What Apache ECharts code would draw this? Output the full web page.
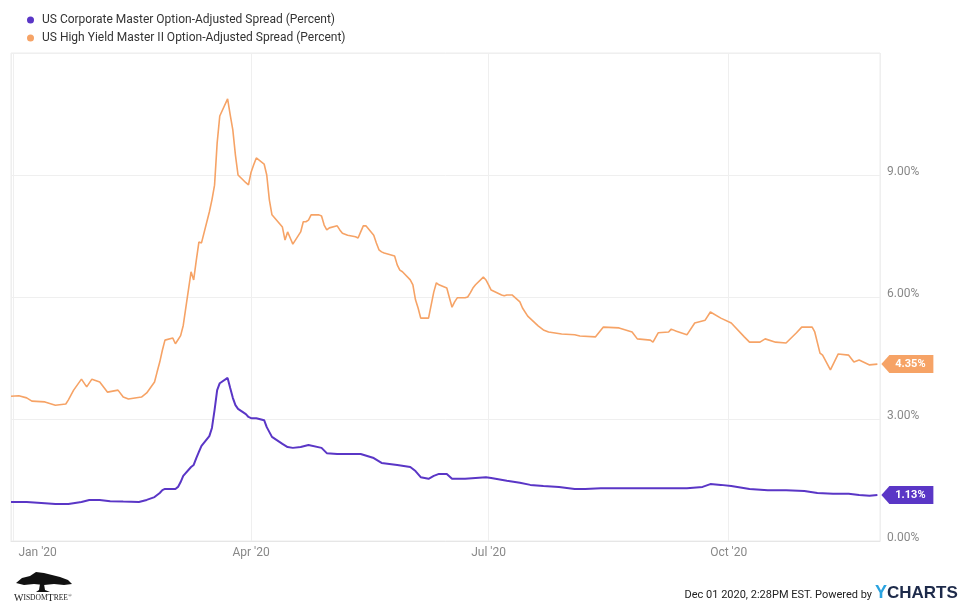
<!DOCTYPE html>
<html>
<head>
<meta charset="utf-8">
<script src="https://cdn.jsdelivr.net/npm/echarts@6/dist/echarts.min.js"></script>
<style>
  html, body { margin: 0; padding: 0; background: #fff; }
  #chart { width: 959px; height: 605px; }
</style>
</head>
<body>
<div id="chart"></div>
<script>
// ICE BofA option-adjusted spreads, 2020 (percent)
const seriesNames = [
  'US Corporate Master Option-Adjusted Spread (Percent)',
  'US High Yield Master II Option-Adjusted Spread (Percent)'
];

const hyDates = [
  '2019-12-31','2020-01-03','2020-01-06','2020-01-08','2020-01-13','2020-01-17','2020-01-21','2020-01-22',
  '2020-01-24','2020-01-27','2020-01-29','2020-01-31','2020-02-03','2020-02-06','2020-02-10','2020-02-12',
  '2020-02-14','2020-02-19','2020-02-21','2020-02-24','2020-02-25','2020-02-26','2020-02-27','2020-02-28',
  '2020-03-02','2020-03-03','2020-03-04','2020-03-05','2020-03-06','2020-03-09','2020-03-10','2020-03-11',
  '2020-03-12','2020-03-13','2020-03-16','2020-03-17','2020-03-18','2020-03-19','2020-03-20','2020-03-23',
  '2020-03-24','2020-03-25','2020-03-26','2020-03-27','2020-03-30','2020-03-31','2020-04-01','2020-04-02',
  '2020-04-03','2020-04-06','2020-04-07','2020-04-08','2020-04-09','2020-04-13','2020-04-14','2020-04-15',
  '2020-04-16','2020-04-17','2020-04-20','2020-04-21','2020-04-22','2020-04-23','2020-04-24','2020-04-27',
  '2020-04-28','2020-04-29','2020-04-30','2020-05-01','2020-05-04','2020-05-05','2020-05-06','2020-05-08',
  '2020-05-11','2020-05-12','2020-05-13','2020-05-14','2020-05-15','2020-05-18','2020-05-19','2020-05-20',
  '2020-05-21','2020-05-22','2020-05-26','2020-05-27','2020-05-28','2020-05-29','2020-06-01','2020-06-02',
  '2020-06-03','2020-06-04','2020-06-05','2020-06-08','2020-06-09','2020-06-10','2020-06-11','2020-06-12',
  '2020-06-15','2020-06-16','2020-06-17','2020-06-18','2020-06-19','2020-06-22','2020-06-23','2020-06-24',
  '2020-06-25','2020-06-26','2020-06-29','2020-06-30','2020-07-01','2020-07-02','2020-07-06','2020-07-07',
  '2020-07-08','2020-07-10','2020-07-13','2020-07-14','2020-07-16','2020-07-20','2020-07-22','2020-07-24',
  '2020-07-29','2020-08-03','2020-08-05','2020-08-11','2020-08-14','2020-08-20','2020-08-25','2020-08-27',
  '2020-09-01','2020-09-02','2020-09-04','2020-09-08','2020-09-09','2020-09-11','2020-09-15','2020-09-18',
  '2020-09-22','2020-09-24','2020-09-28','2020-10-02','2020-10-07','2020-10-09','2020-10-13','2020-10-15',
  '2020-10-19','2020-10-23','2020-10-27','2020-10-29','2020-11-02','2020-11-03','2020-11-05','2020-11-06',
  '2020-11-09','2020-11-12','2020-11-16','2020-11-18','2020-11-20','2020-11-24','2020-11-27'
];
const hyValues = [
  3.56, 3.57, 3.52, 3.44, 3.42, 3.34, 3.37, 3.47,
  3.71, 3.98, 3.79, 3.98, 3.91, 3.66, 3.71, 3.54,
  3.49, 3.54, 3.64, 3.91, 4.16, 4.40, 4.69, 4.94,
  4.99, 4.85, 4.95, 5.05, 5.30, 6.62, 6.42, 6.90,
  7.35, 7.33, 8.09, 8.39, 8.75, 9.79, 10.45, 10.87,
  10.48, 10.11, 9.49, 9.00, 8.81, 8.76, 9.07, 9.25,
  9.42, 9.27, 9.00, 8.39, 8.02, 7.72, 7.40, 7.60,
  7.45, 7.30, 7.60, 7.85, 7.85, 7.89, 8.02, 8.02,
  7.99, 7.77, 7.65, 7.70, 7.75, 7.65, 7.57, 7.52,
  7.48, 7.45, 7.60, 7.75, 7.75, 7.52, 7.33, 7.16,
  7.11, 7.08, 7.01, 6.79, 6.66, 6.62, 6.42, 6.30,
  5.93, 5.73, 5.48, 5.48, 5.80, 6.12, 6.35, 6.30,
  6.22, 5.98, 5.75, 5.88, 5.98, 5.98, 6.00, 6.10,
  6.22, 6.30, 6.49, 6.42, 6.30, 6.17, 6.05, 6.03,
  6.05, 6.05, 5.88, 5.73, 5.53, 5.29, 5.19, 5.14,
  5.09, 5.07, 5.04, 5.02, 5.26, 5.24, 5.14, 4.97,
  4.94, 4.89, 5.12, 5.14, 5.21, 5.16, 5.07, 5.36,
  5.43, 5.63, 5.48, 5.36, 5.02, 4.89, 4.89, 4.97,
  4.89, 4.87, 5.12, 5.26, 5.26, 5.14, 4.62, 4.57,
  4.21, 4.60, 4.57, 4.40, 4.45, 4.33, 4.35
];

const igDates = [
  '2019-12-31','2020-01-06','2020-01-13','2020-01-17','2020-01-22','2020-01-27','2020-01-30','2020-02-03',
  '2020-02-07','2020-02-12','2020-02-18','2020-02-21','2020-02-24','2020-02-25','2020-02-26','2020-02-27',
  '2020-02-28','2020-03-02','2020-03-03','2020-03-04','2020-03-05','2020-03-06','2020-03-09','2020-03-10',
  '2020-03-11','2020-03-12','2020-03-13','2020-03-16','2020-03-17','2020-03-18','2020-03-19','2020-03-20',
  '2020-03-23','2020-03-24','2020-03-25','2020-03-26','2020-03-27','2020-03-30','2020-03-31','2020-04-01',
  '2020-04-03','2020-04-06','2020-04-07','2020-04-09','2020-04-13','2020-04-15','2020-04-17','2020-04-20',
  '2020-04-23','2020-04-28','2020-04-30','2020-05-04','2020-05-08','2020-05-13','2020-05-18','2020-05-21',
  '2020-05-27','2020-06-01','2020-06-03','2020-06-05','2020-06-08','2020-06-10','2020-06-12','2020-06-15',
  '2020-06-17','2020-06-22','2020-06-26','2020-06-30','2020-07-02','2020-07-08','2020-07-13','2020-07-17',
  '2020-07-22','2020-07-28','2020-08-03','2020-08-07','2020-08-13','2020-08-19','2020-08-25','2020-08-31',
  '2020-09-08','2020-09-15','2020-09-21','2020-09-24','2020-09-28','2020-10-02','2020-10-09','2020-10-16',
  '2020-10-23','2020-10-30','2020-11-04','2020-11-10','2020-11-16','2020-11-20','2020-11-24','2020-11-27'
];
const igValues = [
  0.96, 0.96, 0.93, 0.91, 0.91, 0.96, 1.01, 1.01,
  0.98, 0.97, 0.96, 1.01, 1.08, 1.13, 1.18, 1.25,
  1.28, 1.28, 1.28, 1.33, 1.45, 1.60, 1.82, 1.87,
  2.04, 2.19, 2.34, 2.58, 2.78, 3.22, 3.71, 3.88,
  4.01, 3.76, 3.52, 3.34, 3.25, 3.12, 3.05, 3.02,
  3.02, 2.97, 2.80, 2.56, 2.39, 2.31, 2.29, 2.31,
  2.36, 2.29, 2.16, 2.14, 2.14, 2.14, 2.04, 1.92,
  1.87, 1.82, 1.72, 1.57, 1.53, 1.60, 1.65, 1.65,
  1.53, 1.53, 1.55, 1.57, 1.55, 1.48, 1.43, 1.38,
  1.35, 1.33, 1.28, 1.28, 1.30, 1.30, 1.30, 1.30,
  1.30, 1.30, 1.33, 1.40, 1.38, 1.35, 1.28, 1.25,
  1.25, 1.23, 1.18, 1.16, 1.16, 1.13, 1.11, 1.13
];

const xMin = '2019-12-31';
const xMax = '2020-11-28';
const yTicks = [0, 3, 6, 9, 12];

const IG_COLOR = '#5a36c6';
const HY_COLOR = '#f6a366';
const TEXT_FONT = 'Roboto, "Liberation Sans", sans-serif';
const DAY = 86400000;

const pairs = (dates, values) => dates.map((d, i) => [d, values[i]]);

// Tag shape with a left-pointing tip, used for the last-value flags
const TAG_PATH = 'path://M0,9 L8,0 L52,0 L52,18 L8,18 Z';

function lastValueFlag(dates, values, color) {
  const i = values.length - 1;
  return {
    silent: true,
    animation: false,
    symbol: TAG_PATH,
    symbolSize: [52, 18],
    symbolKeepAspect: false,
    symbolOffset: [30, 0],
    itemStyle: { color: color },
    label: {
      show: true,
      position: 'inside',
      offset: [3, 0],
      color: '#fff',
      fontSize: 11,
      fontWeight: 'bold',
      fontFamily: TEXT_FONT,
      formatter: values[i].toFixed(2) + '%'
    },
    data: [{ coord: [dates[i], values[i]] }]
  };
}

const monthNames = ['Jan','Feb','Mar','Apr','May','Jun','Jul','Aug','Sep','Oct','Nov','Dec'];

const chart = echarts.init(document.getElementById('chart'), null, { renderer: 'canvas' });

chart.setOption({
  animation: false,
  backgroundColor: '#fff',
  textStyle: { fontFamily: TEXT_FONT },
  legend: {
    orient: 'vertical',
    left: 22,
    top: 9,
    itemGap: 6,
    itemWidth: 7,
    itemHeight: 7,
    icon: 'circle',
    selectedMode: false,
    textStyle: { color: '#333', fontSize: 12, fontFamily: TEXT_FONT, padding: [0, 0, 0, 3] },
    data: seriesNames
  },
  grid: {
    left: 11,
    right: 79,
    top: 53,
    bottom: 64,
    show: true,
    borderColor: '#ececec',
    borderWidth: 1
  },
  xAxis: {
    type: 'time',
    min: xMin,
    max: xMax,
    splitNumber: 3,
    minInterval: 100 * DAY,
    maxInterval: 120 * DAY,
    axisLine: { show: true, lineStyle: { color: '#e6e6e6' } },
    axisTick: { show: false },
    splitLine: { show: true, lineStyle: { color: '#efefef' } },
    axisLabel: {
      color: '#888',
      fontSize: 12,
      fontFamily: TEXT_FONT,
      margin: 6,
      hideOverlap: false,
      formatter: function (val) {
        const d = new Date(val);
        const txt = monthNames[d.getMonth()] + " '" + String(d.getFullYear()).slice(2);
        return d.getMonth() === 0 ? '{first|' + txt + '}' : txt;
      },
      rich: {
        first: { color: '#888', fontSize: 12, fontFamily: TEXT_FONT, padding: [0, 0, 0, 48] }
      }
    }
  },
  yAxis: {
    type: 'value',
    position: 'right',
    min: yTicks[0],
    max: yTicks[yTicks.length - 1],
    interval: yTicks[1] - yTicks[0],
    axisLine: { show: false },
    axisTick: { show: false },
    splitLine: { show: true, lineStyle: { color: '#efefef' } },
    axisLabel: {
      color: '#888',
      fontSize: 12,
      fontFamily: TEXT_FONT,
      margin: 7,
      verticalAlign: 'bottom',
      lineHeight: 7,
      showMaxLabel: false,
      formatter: v => v.toFixed(2) + '%'
    }
  },
  series: [
    {
      name: seriesNames[0],
      type: 'line',
      showSymbol: false,
      symbol: 'circle',
      color: IG_COLOR,
      lineStyle: { width: 2, color: IG_COLOR },
      data: pairs(igDates, igValues),
      markPoint: lastValueFlag(igDates, igValues, IG_COLOR),
      z: 3
    },
    {
      name: seriesNames[1],
      type: 'line',
      showSymbol: false,
      symbol: 'circle',
      color: HY_COLOR,
      lineStyle: { width: 1.6, color: HY_COLOR },
      data: pairs(hyDates, hyValues),
      markPoint: lastValueFlag(hyDates, hyValues, HY_COLOR),
      z: 2
    }
  ],
  graphic: [
    // WisdomTree mark: tree canopy, trunk and wordmark
    {
      type: 'group',
      left: 14,
      top: 572,
      children: [
        { type: 'polygon', shape: { points: [[2,12],[8,7],[16,5],[22,1],[30,2],[38,4],[46,6],[54,9],[58,13],[50,14],[40,13],[30,14],[20,13],[10,14]] }, style: { fill: '#111' } },
        { type: 'polygon', shape: { points: [[26,13],[30,13],[31,19],[36,21],[22,21],[25,19]] }, style: { fill: '#111' } },
        {
          type: 'text',
          x: 0, y: 22,
          style: {
            text: '{b|W}{s|ISDOM}{b|T}{s|REE}{r|®}',
            rich: {
              b: { fontSize: 10, fontFamily: '"Liberation Serif", serif', fill: '#222' },
              s: { fontSize: 7.5, fontFamily: '"Liberation Serif", serif', fill: '#222' },
              r: { fontSize: 5, fontFamily: '"Liberation Serif", serif', fill: '#222', verticalAlign: 'top' }
            }
          }
        }
      ]
    },
    {
      type: 'text',
      right: 87,
      top: 590,
      style: {
        text: 'Dec 01 2020, 2:28PM EST. Powered by',
        fontSize: 11,
        fontFamily: TEXT_FONT,
        fill: '#222'
      }
    },
    {
      type: 'text',
      left: 875,
      top: 584,
      style: {
        text: '{y|Y}{c|CHARTS}',
        rich: {
          y: { fontSize: 18, fontWeight: 'bold', fontFamily: '"Liberation Sans", sans-serif', fill: '#2aa3e0' },
          c: { fontSize: 17, fontWeight: 'bold', fontFamily: '"Liberation Sans", sans-serif', fill: '#1d2a4a' }
        }
      }
    }
  ]
});
</script>
</body>
</html>
